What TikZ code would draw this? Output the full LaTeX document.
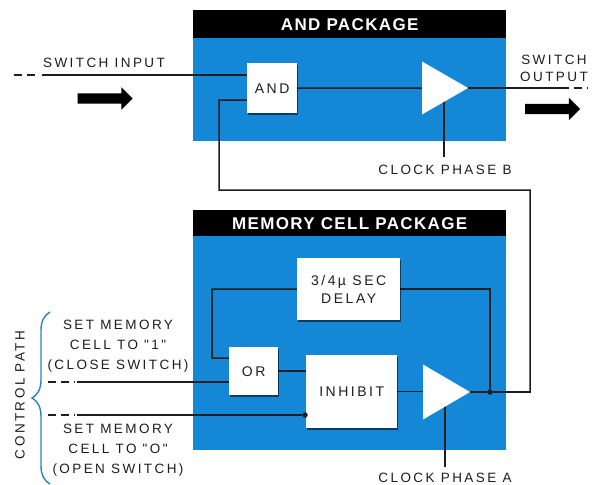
\documentclass[tikz,border=0pt]{standalone}
\usepackage{fontspec}
\setmainfont{Liberation Sans}
\newfontfamily\lblfont[LetterSpace=18]{Liberation Sans}
\newfontfamily\headfont[LetterSpace=8]{Liberation Sans}
\usetikzlibrary{shapes.geometric,shapes.arrows,decorations.pathreplacing,calc,shadows}
\pgfdeclarelayer{back}
\pgfdeclarelayer{wires}
\pgfsetlayers{back,wires,main}
\definecolor{pkgblue}{RGB}{20,136,214}
\definecolor{ink}{RGB}{30,30,30}
\definecolor{bracecol}{RGB}{40,135,185}
\newcommand\lblsize{\fontsize{13.5}{20}\selectfont}
\newcommand\boxsize{\fontsize{14}{18}\selectfont}
\begin{document}
\begin{tikzpicture}[x=1pt,y=-1pt,
  wire/.style={draw=ink, line width=1.5pt},
  dashend/.style={draw=ink, line width=2pt, dash pattern=on 8pt off 5pt},
  whitebox/.style={rectangle, fill=white, inner sep=0pt, text=ink, align=center,
    font=\lblfont\boxsize, anchor=north west,
    drop shadow={shadow xshift=1.2pt, shadow yshift=-1.6pt, fill=black, opacity=0.55}},
  amp/.style={isosceles triangle, isosceles triangle stretches, fill=white,
    inner sep=0pt, outer sep=0pt, anchor=apex},
  pkgbody/.style={rectangle, fill=pkgblue, inner sep=0pt, anchor=north west},
  pkghead/.style={rectangle, fill=black, text=white, font=\headfont\bfseries\fontsize{17}{20}\selectfont,
    inner sep=0pt, anchor=north west},
  lbl/.style={text=ink, font=\lblfont\lblsize, inner sep=0pt, align=center},
  bigarrow/.style={single arrow, fill=black, inner sep=5pt, minimum height=55pt,
    single arrow head extend=6pt, single arrow head indent=0pt},
  dotnode/.style={circle, fill=ink, inner sep=0pt, minimum size=5.5pt}
]
\useasboundingbox (0,0) rectangle (595,485);
\begin{pgfonlayer}{back}
  \fill[white] (0,0) rectangle (595,485);
  \node[pkgbody, minimum width=313pt, minimum height=103pt] (andbody) at (193,38) {};
  \node[pkgbody, minimum width=313pt, minimum height=215pt] (membody) at (193,235) {};
\end{pgfonlayer}

% package headers
\node[pkghead, minimum width=313pt, minimum height=28pt] (andhead) at (193,10) {AND PACKAGE};
\node[pkghead, minimum width=313pt, minimum height=26pt] (memhead) at (193,210) {MEMORY CELL PACKAGE};

% AND package parts
\node[whitebox, minimum width=50pt, minimum height=50pt] (andbox) at (247,63) {AND};
\node[amp, minimum height=46pt, minimum width=53pt] (ampB) at (468,88) {};

% memory package parts
\node[whitebox, minimum width=103pt, minimum height=62pt] (delay) at (297,258) {3/4\,µ SEC\\DELAY};
\node[whitebox, minimum width=49pt, minimum height=48pt] (orbox) at (229,347) {OR};
\node[whitebox, minimum width=91pt, minimum height=73pt] (inhibit) at (306,355) {INHIBIT};
\node[amp, minimum height=47pt, minimum width=55pt] (ampA) at (470,392) {};
\node[dotnode] (jA) at (490,392) {};
\node[dotnode] (inhdot) at (305,415) {};

% free ends
\coordinate (inB) at (42,75);
\coordinate (outB) at (561,88);
\coordinate (clkB) at (444,157);
\coordinate (clkA) at (445,467);
\coordinate (s1) at (77,382);
\coordinate (s0) at (77,415);

% big arrows
\node[bigarrow] (arrIn) at (102.5,98.5) {};
\node[bigarrow] (arrOut) at (550,109) {};

% labels
\node[lbl] (swin) at (104,63) {SWITCH INPUT};
\node[lbl, font=\lblfont\fontsize{13.5}{17}\selectfont] (swout) at (554,68) {SWITCH\\OUTPUT};
\node[lbl] (ckB) at (445,170) {CLOCK PHASE B};
\node[lbl] (ckA) at (445,478) {CLOCK PHASE A};
\node[lbl] (set1) at (118,346) {SET MEMORY\\CELL TO "1"\\(CLOSE SWITCH)};
\node[lbl] (set0) at (118,450) {SET MEMORY\\CELL TO "O"\\(OPEN SWITCH)};
\node[lbl, rotate=90] (ctrl) at (20,395) {CONTROL PATH};

\begin{pgfonlayer}{wires}
  % AND package wiring
  \draw[dashend] (14,75) -- (40,75);
  \draw[wire] (inB) -- (inB -| andbox.west);
  \draw[wire] (andbox) -- (ampB);
  \draw[wire] (ampB.apex) -- (outB);
  \draw[dashend] (outB) -- (588,88);
  \draw[wire, line width=2pt] (clkB) -- (clkB |- ampB.center);
  % feedback to AND
  \draw[wire] (jA) -| (530,190) -| (219,100) -- ([yshift=-12pt]andbox.west);
  % memory wiring
  \draw[wire] (delay.east) -| (jA);
  \draw[wire] (delay.west) -| (212,358) -- ([yshift=13pt]orbox.west);
  \draw[wire] (orbox) -- (orbox -| inhibit.west);
  \draw[dashend] (48,382) -- (75,382);
  \draw[wire] (s1) -- (s1 -| orbox.west);
  \draw[dashend] (48,415) -- (75,415);
  \draw[wire] (s0) -- (inhdot);
  \draw[wire] (inhibit.east) -- (inhibit.east -| ampA.west);
  \draw[wire] (ampA.apex) -- (jA);
  \draw[wire] (jA) -- (530,392);
  \draw[wire, line width=2pt] (clkA) -- (clkA |- ampA.center);
\end{pgfonlayer}

% control path brace
\draw[bracecol, line width=1.4pt, decorate, decoration={brace, amplitude=18pt}] (50,484) -- (50,312);
\end{tikzpicture}
\end{document}
